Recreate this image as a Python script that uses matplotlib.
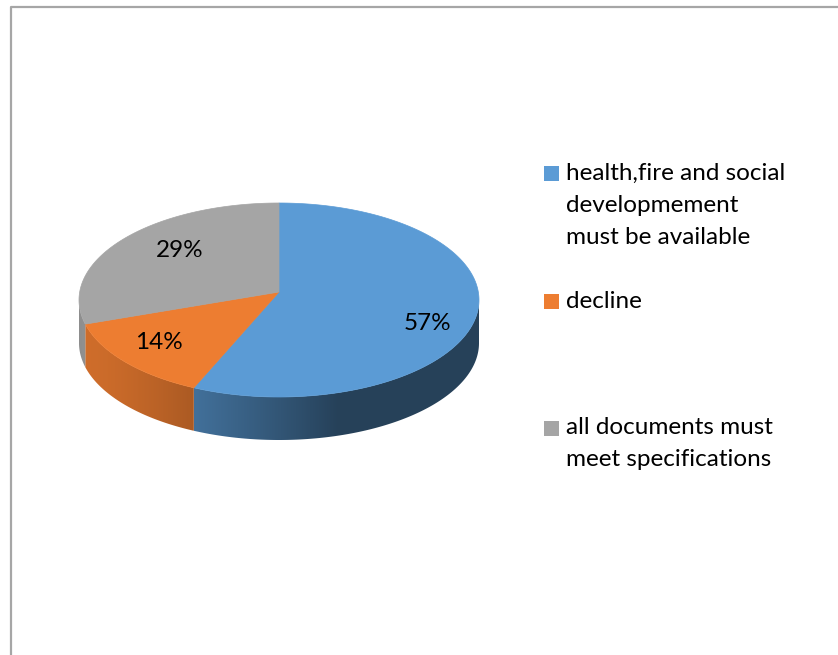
import matplotlib
matplotlib.use("Agg")
import matplotlib.pyplot as plt
from matplotlib.patches import Polygon, Rectangle
from matplotlib.colors import to_rgb
import numpy as np

# survey answers (percent)
labels = [
    ["health,fire and social", "developmement", "must be available"],
    ["decline"],
    ["all documents must", "meet specifications"],
]
values = [57, 14, 29]
colors = ["#5B9BD5", "#ED7D31", "#A5A5A5"]

plt.rcParams["font.family"] = ["Lato", "DejaVu Sans"]

W, H = 838, 655
fig = plt.figure(figsize=(W / 100, H / 100), dpi=100)
ax = fig.add_axes([0, 0, 1, 1])
ax.set_xlim(0, W)
ax.set_ylim(H, 0)
ax.axis("off")

# pie geometry in pixels (tilted disc)
cx, cy = 279, 300
a, b = 200, 97
depth = 43
apex = (cx, cy - 8)


def rim(t, dy=0):
    t = np.radians(t)
    return np.column_stack([cx + a * np.cos(t), cy - b * np.sin(t) + dy])


def shade(t):
    # light coming from the front-left
    return 0.42 + 0.45 * np.clip(np.cos(np.radians(t - 197)), 0, None)


frac = np.array(values, dtype=float) / sum(values)
edges = 90 - 360 * np.concatenate([[0], np.cumsum(frac)])

# side wall, only the front half (180..360 deg) is visible
for i, col in enumerate(colors):
    t_hi, t_lo = edges[i] % 360, edges[i + 1] % 360
    if t_hi <= t_lo:
        t_hi += 360
    lo, hi = max(t_lo, 180), min(t_hi, 360)
    if lo >= hi:
        lo, hi = max(t_lo - 360, 180), min(t_hi - 360, 360)
        if lo >= hi:
            continue
    ts = np.linspace(lo, hi, 200)
    outline = np.vstack([rim(ts), rim(ts[::-1], depth)])
    side = Polygon(outline, closed=True, facecolor="none", edgecolor="none")
    ax.add_patch(side)

    # horizontal gradient, each column shaded by its angle on the rim
    x0, x1 = outline[:, 0].min(), outline[:, 0].max()
    y0, y1 = outline[:, 1].min(), outline[:, 1].max()
    xs = np.linspace(x0, x1, 300)
    tt = 360 - np.degrees(np.arccos(np.clip((xs - cx) / a, -1, 1)))
    grad = np.array(to_rgb(col))[None, :] * shade(tt)[:, None]
    img = ax.imshow(grad[None, :, :], extent=(x0, x1, y1, y0), aspect="auto",
                    interpolation="bilinear", zorder=1)
    img.set_clip_path(side)

# top face
for i, col in enumerate(colors):
    ts = np.linspace(edges[i], edges[i + 1], 200)
    pts = np.vstack([[apex], rim(ts)])
    ax.add_patch(Polygon(pts, closed=True, facecolor=col, edgecolor=col, lw=0.5, zorder=2))

# percentage labels
label_r = [0.76, 0.78, 0.63]
nudge = [7, -6, -12]
for i in range(len(values)):
    mid = (edges[i] + edges[i + 1]) / 2
    t = np.radians(mid)
    x = cx + a * label_r[i] * np.cos(t)
    y = cy - b * label_r[i] * np.sin(t) + nudge[i]
    ax.text(x, y, "{}%".format(values[i]), ha="center", va="center", fontsize=17.5,
            color="black", zorder=3)

# legend
leg_y = [173, 301, 428]
step = 32
for i, col in enumerate(colors):
    ax.add_patch(Rectangle((544, leg_y[i] - 7.5), 15, 15, facecolor=col, edgecolor="none"))
    for j, line in enumerate(labels[i]):
        ax.text(566, leg_y[i] + j * step, line, ha="left", va="center", fontsize=17.5, color="black")

# chart frame
ax.plot([11, 11, W], [H, 7, 7], color="#a6a6a6", lw=1.6, clip_on=False, solid_capstyle="butt")

ax.set_xlim(0, W)
ax.set_ylim(H, 0)
fig.savefig("out.png", dpi=100)
